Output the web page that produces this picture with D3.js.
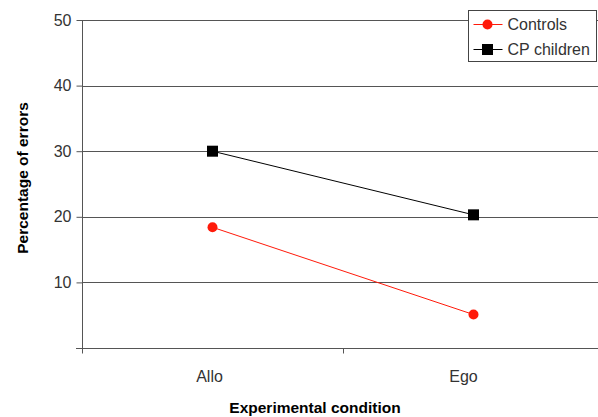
<!DOCTYPE html>
<html>
<head>
<meta charset="utf-8">
<script src="https://cdnjs.cloudflare.com/ajax/libs/d3/7.8.5/d3.min.js"></script>
<style>
  body { margin: 0; background: #fff; }
</style>
</head>
<body>
<div id="chart"></div>
<script>

// Data
var conditions = ['Allo', 'Ego'];
var seriesNames = ['Controls', 'CP children'];
var controlsValues = [18.4, 5.1];
var cpValues = [30.0, 20.3];
var yTicks = [10, 20, 30, 40, 50];

var attrs = {
  svgWidth: 598,
  svgHeight: 417,
  plotLeft: 82,
  plotRight: 604,   // plot area runs past the right edge in the original
  plotTop: 20,
  plotBottom: 348,
  defaultFont: '"Liberation Sans", Arial, Helvetica, sans-serif',
  textFill: '#333',
  gridColor: '#555',
  controlsColor: '#ff1a0a',
  cpColor: '#000'
};

var series = [
  { name: seriesNames[0], values: controlsValues, color: attrs.controlsColor, symbol: 'circle' },
  { name: seriesNames[1], values: cpValues, color: attrs.cpColor, symbol: 'square' }
];

//#########################  SCALES  ########################
var scales = {};

scales.x = d3.scaleBand()
  .domain(conditions)
  .range([attrs.plotLeft, attrs.plotRight])
  .padding(0);

scales.y = d3.scaleLinear()
  .domain([0, 50])
  .range([attrs.plotBottom, attrs.plotTop]);

var xCenter = function (d) { return scales.x(d) + scales.x.bandwidth() / 2; };

//Add svg
var svg = d3.select('#chart').append('svg')
  .attr('width', attrs.svgWidth)
  .attr('height', attrs.svgHeight)
  .attr('font-family', attrs.defaultFont);

//gridlines
svg.append('g').attr('class', 'grid')
  .selectAll('line')
  .data(yTicks)
  .enter().append('line')
  .attr('x1', attrs.plotLeft)
  .attr('x2', attrs.plotRight)
  .attr('y1', function (d) { return Math.round(scales.y(d)) + 0.5; })
  .attr('y2', function (d) { return Math.round(scales.y(d)) + 0.5; })
  .attr('stroke', attrs.gridColor)
  .attr('stroke-width', 1);

//y axis
var yAxis = svg.append('g')
  .attr('transform', 'translate(' + (attrs.plotLeft + 0.5) + ',0)')
  .call(d3.axisLeft(scales.y).tickValues([0].concat(yTicks)).tickSize(6).tickPadding(5)
    .tickFormat(function (d) { return d === 0 ? '' : d; }));

yAxis.select('.domain')
  .attr('d', 'M0,' + attrs.plotTop + 'V' + (attrs.plotBottom + 5))
  .attr('stroke', attrs.gridColor);
yAxis.selectAll('.tick line').attr('stroke', attrs.gridColor);
yAxis.selectAll('.tick text')
  .attr('font-size', 16)
  .attr('fill', attrs.textFill)
  .attr('font-family', attrs.defaultFont);

//x axis
var xAxis = svg.append('g')
  .attr('transform', 'translate(0,' + (attrs.plotBottom + 0.5) + ')');

xAxis.append('line')
  .attr('x1', attrs.plotLeft - 6)
  .attr('x2', attrs.plotRight)
  .attr('stroke', attrs.gridColor);

xAxis.selectAll('.x-tick')
  .data(conditions)
  .enter().append('line')
  .attr('class', 'x-tick')
  .attr('x1', function (d) { return Math.round(scales.x(d)) + 0.5; })
  .attr('x2', function (d) { return Math.round(scales.x(d)) + 0.5; })
  .attr('y1', 0)
  .attr('y2', 5)
  .attr('stroke', attrs.gridColor);

xAxis.selectAll('.x-label')
  .data(conditions)
  .enter().append('text')
  .attr('class', 'x-label')
  .attr('x', function (d, i) { return xCenter(d) - (i === 0 ? 3 : 10); })
  .attr('y', 33)
  .attr('text-anchor', 'middle')
  .attr('font-size', 16)
  .attr('fill', attrs.textFill)
  .text(function (d) { return d; });

//axis titles
svg.append('text')
  .attr('x', 315)
  .attr('y', 413)
  .attr('text-anchor', 'middle')
  .attr('font-size', 15.5)
  .attr('font-weight', 'bold')
  .attr('fill', '#000')
  .text('Experimental condition');

svg.append('text')
  .attr('transform', 'translate(28,178) rotate(-90)')
  .attr('text-anchor', 'middle')
  .attr('font-size', 15.5)
  .attr('font-weight', 'bold')
  .attr('fill', '#000')
  .text('Percentage of errors');

//lines and markers
var line = d3.line()
  .x(function (d, i) { return xCenter(conditions[i]); })
  .y(function (d) { return scales.y(d); });

var seriesGroups = svg.selectAll('.series')
  .data(series)
  .enter().append('g')
  .attr('class', 'series');

seriesGroups.append('path')
  .attr('d', function (d) { return line(d.values); })
  .attr('fill', 'none')
  .attr('stroke', function (d) { return d.color; })
  .attr('stroke-width', 1);

function drawMarker(g, d, x, y) {
  if (d.symbol === 'circle') {
    g.append('circle').attr('cx', x).attr('cy', y).attr('r', 5).attr('fill', d.color);
  } else {
    g.append('rect').attr('x', x - 5.5).attr('y', y - 5.5)
      .attr('width', 11).attr('height', 11).attr('fill', d.color);
  }
}

seriesGroups.each(function (d) {
  var g = d3.select(this);
  d.values.forEach(function (v, i) {
    drawMarker(g, d, xCenter(conditions[i]), scales.y(v));
  });
});

//legend
var legend = svg.append('g').attr('transform', 'translate(468.5,10.5)');

legend.append('rect')
  .attr('width', 128)
  .attr('height', 51)
  .attr('fill', '#fff')
  .attr('stroke', '#444');

var legendItems = legend.selectAll('.legend-item')
  .data(series)
  .enter().append('g')
  .attr('class', 'legend-item')
  .attr('transform', function (d, i) { return 'translate(0,' + (14 + i * 25) + ')'; });

legendItems.append('line')
  .attr('x1', 5).attr('x2', 34)
  .attr('stroke', function (d) { return d.color; });

legendItems.each(function (d) {
  drawMarker(d3.select(this), d, 19, 0);
});

legendItems.append('text')
  .attr('x', 39)
  .attr('y', 5.5)
  .attr('font-size', 16)
  .attr('fill', attrs.textFill)
  .text(function (d) { return d.name; });

</script>
</body>
</html>
